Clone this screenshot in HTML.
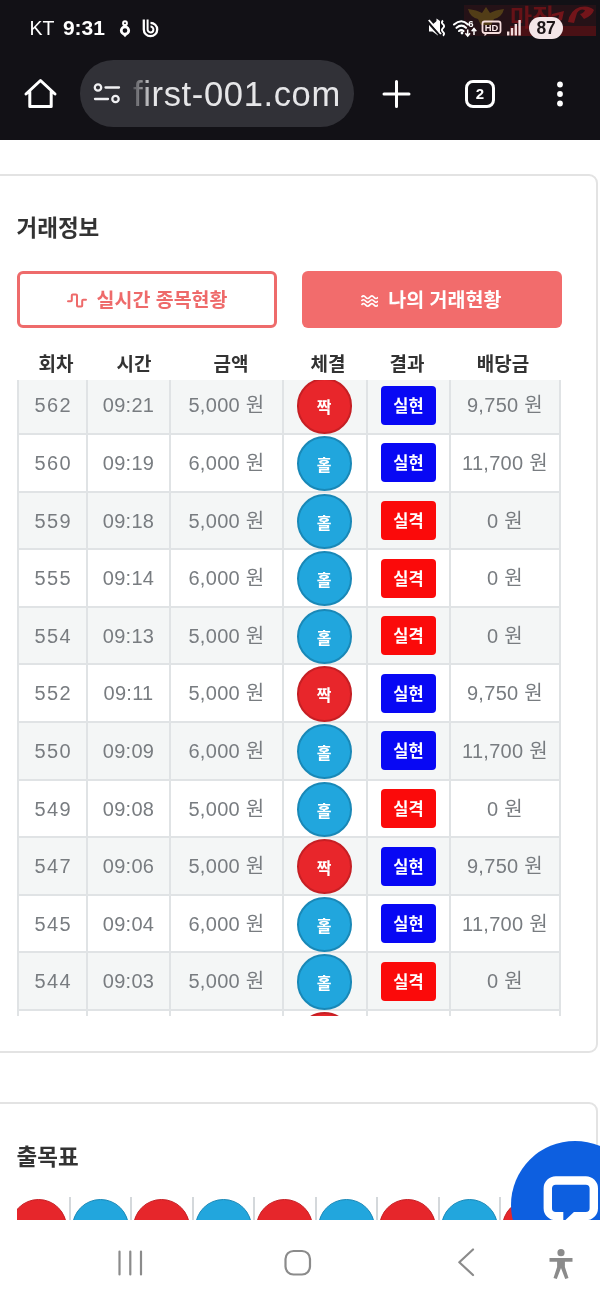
<!DOCTYPE html>
<html lang="ko">
<head>
<meta charset="utf-8">
<title>거래정보</title>
<style>
*{box-sizing:border-box;margin:0;padding:0}
html,body{width:600px;height:1300px;overflow:hidden;background:#fff}
body{position:relative;font-family:"Liberation Sans","Noto Sans CJK KR",sans-serif;color:#333}
.abs{position:absolute}
/* top chrome */
#chrome{z-index:5;position:absolute;left:0;top:0;width:600px;height:140px;background:#121116}
#status{position:absolute;left:29.5px;top:16px;height:24px;line-height:24px;color:#fff;font-size:19.5px;white-space:nowrap}
#status b{font-weight:700;margin-left:8.5px;font-size:21px}
#pill{position:absolute;left:80px;top:60px;width:273.5px;height:66.5px;border-radius:33.3px;background:#313137;overflow:hidden}
#url{position:absolute;left:53px;top:0;height:66px;line-height:68.4px;font-size:34.5px;color:#e6e6e8;white-space:nowrap;letter-spacing:0.65px}
#fade{position:absolute;left:48px;top:0;width:26px;height:67px;background:linear-gradient(90deg,#313137 0%,rgba(49,49,55,0) 100%)}
#wm{position:absolute;left:460px;top:0;width:140px;height:52px;overflow:hidden}
#batt{position:absolute;left:529px;top:16.5px;width:34px;height:22px;border-radius:11px;background:#f3e6e8;color:#1c1518;font-size:17.5px;font-weight:700;text-align:center;line-height:22.5px;letter-spacing:-0.3px}
#tabs{position:absolute;left:465px;top:80px;width:30px;height:28px;border:3px solid #fff;border-radius:8px;color:#fff;font-size:15px;font-weight:700;text-align:center;line-height:22px}
/* page */
#page{position:absolute;left:0;top:0;width:600px;height:1220px;background:#fff;overflow:hidden}
.card{position:absolute;left:-12px;width:610px;border:2px solid #e3e3e3;border-radius:9px;background:#fff}
.title{position:absolute;left:16.5px;font-size:22.5px;font-weight:700;color:#333;white-space:nowrap;line-height:30px}
.btn{position:absolute;top:271px;width:260px;height:57px;border-radius:6px;font-size:19.5px;font-weight:700;line-height:53px;text-align:center;white-space:nowrap}
#b1{left:17px;border:3.5px solid #ee6b6b;color:#ee6a6a;background:#fff;line-height:52px}
#b2{left:302px;background:#f26c6c;color:#fff;line-height:58px;padding-right:2px}
.btn svg{vertical-align:middle;margin-right:10px;position:relative;top:-1px}
/* table */
#thead{position:absolute;left:0;top:350px;width:600px;height:30px}
#thead span{position:absolute;top:0;width:100px;margin-left:-50px;text-align:center;font-size:19px;font-weight:700;color:#333;line-height:30px}
#tbody{position:absolute;left:17px;top:380px;width:544px;height:636px;overflow:hidden;border-left:2px solid #e0e3e5;border-right:2px solid #e0e3e5}
.row{position:absolute;left:0;width:540px;height:57.6px;border-bottom:2px solid #e0e3e5}
.row.odd{background:#f4f6f6}
.c{position:absolute;top:0;height:100%;text-align:center;font-size:20px;color:#787c80;line-height:57px;white-space:nowrap;letter-spacing:0.3px}
.vl{position:absolute;top:0;width:2px;height:636px;background:#e0e3e5}
.ball{position:absolute;width:55.2px;height:55.2px;border-radius:50%;left:277.6px;color:#fff;font-size:16px;font-weight:700;text-align:center;line-height:55px}
.ball.r{background:#e8262b;border:2px solid #c61f24}
.ball.b{background:#21a6dd;border:2px solid #1988b7}
.bd{position:absolute;left:362px;width:55px;height:39px;border-radius:4px;color:#fff;font-size:16.5px;font-weight:700;text-align:center;line-height:40px}
.bd.b{background:#0808f4}
.bd.r{background:#fb0a0a}
#strip{position:absolute;left:17px;top:1197px;width:545px;height:23px;overflow:hidden}
.sb{position:absolute;top:1.5px;width:57px;height:57px;border-radius:50%}
.sb.r{background:#e6262b;border:1.500px solid #c61f24}
.sb.b{background:#22a6dd;border:1.500px solid #1988b7}
.sl{position:absolute;top:0;width:2px;height:23px;background:#d4d8db}
#chat{position:absolute;left:511px;top:1141px;width:128px;height:128px;border-radius:50%;background:#0d5fe0;overflow:hidden}
/* nav */
#nav{z-index:6;position:absolute;left:0;top:1220px;width:600px;height:80px;background:#fff}
</style>
</head>
<body>
<div id="chrome">
  <div id="wm"><svg width="140" height="52" viewBox="0 0 140 52"><rect x="4" y="5" width="132" height="31" fill="#8a1a1e" opacity=".16"/><path d="M8 9q9 1 14 4l4-6 4 6q5-3 14-4-2 8-10 10l-3 6h-10l-3-6Q10 17 8 9z" fill="#8a7418" opacity=".45"/><rect x="50" y="26" width="86" height="10" fill="#6a1014" opacity=".55"/><path d="M92 14l12-3-2 9-4 1 1-6-8 2zM108 22q2-12 12-15 9-2 14 3-2 6-10 9l-4-5q4-1 5-4-5-2-8 3l-3 10z" fill="#a8181d" opacity=".6"/><text x="50" y="26" font-family="Liberation Sans, Noto Sans CJK KR, sans-serif" font-weight="700" font-size="24" fill="#7c1218" opacity=".75">마징</text></svg></div>
  <div id="status">KT<b>9:31</b></div>
  <svg class="abs" style="left:118px;top:18px" width="44" height="20" viewBox="0 0 44 20"><circle cx="7" cy="5.200" r="1.900" fill="none" stroke="#fff" stroke-width="2"/><path d="M7 8.800a3.700 3.700 0 1 1 0 7.400a3.700 3.700 0 1 1 0-7.400z" fill="none" stroke="#fff" stroke-width="2.800"/><path d="M3.800 15.500L7 19.200l3.200-3.700z" fill="#fff"/><path d="M25.800 1.500v10a6.700 6.700 0 1 0 6.700-6.700" fill="none" stroke="#fff" stroke-width="2.300"/><path d="M29.600 1.500v10a2.900 2.900 0 1 0 2.900-2.900" fill="none" stroke="#fff" stroke-width="2"/></svg>
  <svg class="abs" style="left:426px;top:12px" width="100" height="28" viewBox="0 0 100 28"><path d="M3 12.500h3.500L12 8v15.500L6.500 19.500H3z" fill="#fff"/><path d="M10.500 6.500L14 9V23L10.500 20.500z" fill="#fff"/><path d="M1.500 9.500L14 23.500" stroke="#121116" stroke-width="2.400"/><path d="M2.800 8L15 22" stroke="#fff" stroke-width="1.900"/><path d="M17 8.500q-2.200 2 0 3.800t0 3.800 0 3.800 0 3.800" fill="none" stroke="#fff" stroke-width="1.900"/><g fill="none" stroke="#fff" stroke-width="2.100" stroke-linecap="round"><path d="M28 12.500q7.500-6.500 14 0"/><path d="M30.500 15.800q5-4.200 9.500 0"/><path d="M33 19q2.300-1.900 4.500 0"/></g><circle cx="36" cy="21" r="1.400" fill="#fff"/><text x="42.300" y="14.600" font-family="Liberation Sans,sans-serif" font-size="9.500" font-weight="700" fill="#fff">6</text><path d="M41.700 17.500v6m-2.300-2.300l2.300 2.800 2.300-2.800" fill="none" stroke="#fff" stroke-width="1.500"/><path d="M48 23v-6m-2.300 2.300l2.300-2.800 2.300 2.800" fill="none" stroke="#fff" stroke-width="1.500"/><rect x="56.500" y="9.500" width="18" height="11.500" rx="2.200" fill="none" stroke="#f6dede" stroke-width="1.800"/><path d="M58.500 21v3.300l3.500-3.300z" fill="#f6dede"/><text x="58.700" y="18.900" font-family="Liberation Sans,sans-serif" font-size="9.500" font-weight="700" fill="#fbeaea" textLength="13.600" lengthAdjust="spacingAndGlyphs">HD</text><g fill="#f3dcdc"><rect x="81" y="19.500" width="2.400" height="4"/><rect x="84.800" y="16" width="2.400" height="7.500"/><rect x="88.600" y="12" width="2.400" height="11.500"/><rect x="92.400" y="8" width="2.400" height="15.500"/></g></svg>
  <div id="batt">87</div>
  <svg class="abs" style="left:22px;top:76px" width="36" height="36" viewBox="0 0 36 36"><path d="M4 18L18.500 4.500 33 18M7.800 15.500V30.500H29.200V15.500" fill="none" stroke="#fff" stroke-width="3" stroke-linejoin="round" stroke-linecap="round"/></svg>
  <div id="pill"><svg class="abs" style="left:13px;top:22px" width="28" height="24" viewBox="0 0 28 24"><g fill="none" stroke="#f0f0f2" stroke-width="2.300" stroke-linecap="round"><circle cx="5" cy="5.500" r="3.200"/><path d="M12.500 5.500H26"/><path d="M2 17H15"/><circle cx="22.500" cy="17" r="3.200"/></g></svg><div id="url">first-001.com</div><div id="fade"></div></div>
  <svg class="abs" style="left:380px;top:78px" width="32" height="32" viewBox="0 0 32 32"><path d="M16.500 3.500v25M4 16h25" stroke="#fff" stroke-width="3" stroke-linecap="round"/></svg>
  <div id="tabs">2</div>
  <svg class="abs" style="left:554px;top:78px" width="12" height="32" viewBox="0 0 12 32"><circle cx="6" cy="6.500" r="2.900" fill="#fff"/><circle cx="6" cy="16" r="2.900" fill="#fff"/><circle cx="6" cy="25.500" r="2.900" fill="#fff"/></svg>
</div>
<div id="page">
<div class="card" style="top:174px;height:879px"></div>
<div class="title" style="top:214px">거래정보</div>
<div class="btn" id="b1"><svg width="20" height="15" viewBox="0 0 20 15"><path d="M1 8.200h2.800q1 0 1-1V2.500q0-1 1-1h3.200q1 0 1 1v10q0 1 1 1h3.200q1 0 1-1V7.800q0-1 1-1H19" fill="none" stroke="#ee6a6a" stroke-width="2" stroke-linecap="round" stroke-linejoin="round"/></svg>실시간 종목현황</div>
<div class="btn" id="b2"><svg width="17.600" height="13.500" viewBox="0 0 19 14" preserveAspectRatio="none"><path d="M.500 3.300c1.500-1.800 3-1.800 4.500 0s3 1.800 4.500 0 3-1.800 4.500 0 3 1.800 4.500 0M.500 7.300c1.500-1.800 3-1.800 4.500 0s3 1.800 4.500 0 3-1.800 4.500 0 3 1.800 4.500 0M.500 11.300c1.500-1.800 3-1.800 4.500 0s3 1.800 4.500 0 3-1.800 4.500 0 3 1.800 4.500 0" fill="none" stroke="#fff" stroke-width="1.700"/></svg>나의 거래현황</div>
<div id="thead"><span style="left:56px">회차</span><span style="left:134px">시간</span><span style="left:231px">금액</span><span style="left:328px">체결</span><span style="left:407px">결과</span><span style="left:503px">배당금</span></div>
<div id="tbody">
<div class="row odd" style="top:-2.6px">
<div class="c" style="left:-1px;width:69px;letter-spacing:1.4px;text-indent:1.4px">562</div>
<div class="c" style="left:68px;width:83px">09:21</div>
<div class="c" style="left:151px;width:113px">5,000 원</div>
<div class="c" style="left:431px;width:110px">9,750 원</div>
</div>
<div class="row" style="top:55.0px">
<div class="c" style="left:-1px;width:69px;letter-spacing:1.4px;text-indent:1.4px">560</div>
<div class="c" style="left:68px;width:83px">09:19</div>
<div class="c" style="left:151px;width:113px">6,000 원</div>
<div class="c" style="left:431px;width:110px">11,700 원</div>
</div>
<div class="row odd" style="top:112.6px">
<div class="c" style="left:-1px;width:69px;letter-spacing:1.4px;text-indent:1.4px">559</div>
<div class="c" style="left:68px;width:83px">09:18</div>
<div class="c" style="left:151px;width:113px">5,000 원</div>
<div class="c" style="left:431px;width:110px">0 원</div>
</div>
<div class="row" style="top:170.2px">
<div class="c" style="left:-1px;width:69px;letter-spacing:1.4px;text-indent:1.4px">555</div>
<div class="c" style="left:68px;width:83px">09:14</div>
<div class="c" style="left:151px;width:113px">6,000 원</div>
<div class="c" style="left:431px;width:110px">0 원</div>
</div>
<div class="row odd" style="top:227.8px">
<div class="c" style="left:-1px;width:69px;letter-spacing:1.4px;text-indent:1.4px">554</div>
<div class="c" style="left:68px;width:83px">09:13</div>
<div class="c" style="left:151px;width:113px">5,000 원</div>
<div class="c" style="left:431px;width:110px">0 원</div>
</div>
<div class="row" style="top:285.4px">
<div class="c" style="left:-1px;width:69px;letter-spacing:1.4px;text-indent:1.4px">552</div>
<div class="c" style="left:68px;width:83px">09:11</div>
<div class="c" style="left:151px;width:113px">5,000 원</div>
<div class="c" style="left:431px;width:110px">9,750 원</div>
</div>
<div class="row odd" style="top:343.0px">
<div class="c" style="left:-1px;width:69px;letter-spacing:1.4px;text-indent:1.4px">550</div>
<div class="c" style="left:68px;width:83px">09:09</div>
<div class="c" style="left:151px;width:113px">6,000 원</div>
<div class="c" style="left:431px;width:110px">11,700 원</div>
</div>
<div class="row" style="top:400.6px">
<div class="c" style="left:-1px;width:69px;letter-spacing:1.4px;text-indent:1.4px">549</div>
<div class="c" style="left:68px;width:83px">09:08</div>
<div class="c" style="left:151px;width:113px">5,000 원</div>
<div class="c" style="left:431px;width:110px">0 원</div>
</div>
<div class="row odd" style="top:458.2px">
<div class="c" style="left:-1px;width:69px;letter-spacing:1.4px;text-indent:1.4px">547</div>
<div class="c" style="left:68px;width:83px">09:06</div>
<div class="c" style="left:151px;width:113px">5,000 원</div>
<div class="c" style="left:431px;width:110px">9,750 원</div>
</div>
<div class="row" style="top:515.8px">
<div class="c" style="left:-1px;width:69px;letter-spacing:1.4px;text-indent:1.4px">545</div>
<div class="c" style="left:68px;width:83px">09:04</div>
<div class="c" style="left:151px;width:113px">6,000 원</div>
<div class="c" style="left:431px;width:110px">11,700 원</div>
</div>
<div class="row odd" style="top:573.4px">
<div class="c" style="left:-1px;width:69px;letter-spacing:1.4px;text-indent:1.4px">544</div>
<div class="c" style="left:68px;width:83px">09:03</div>
<div class="c" style="left:151px;width:113px">5,000 원</div>
<div class="c" style="left:431px;width:110px">0 원</div>
</div>
<div class="row" style="top:631.0px">
<div class="c" style="left:-1px;width:69px;letter-spacing:1.4px;text-indent:1.4px">542</div>
<div class="c" style="left:68px;width:83px">09:01</div>
<div class="c" style="left:151px;width:113px">5,000 원</div>
<div class="c" style="left:431px;width:110px">9,750 원</div>
</div>
<div class="vl" style="left:67px"></div>
<div class="vl" style="left:150px"></div>
<div class="vl" style="left:263px"></div>
<div class="vl" style="left:347px"></div>
<div class="vl" style="left:430px"></div>
<div class="ball r" style="top:-1.6px">짝</div>
<div class="bd b" style="top:5.8px">실현</div>
<div class="ball b" style="top:56.0px">홀</div>
<div class="bd b" style="top:63.4px">실현</div>
<div class="ball b" style="top:113.6px">홀</div>
<div class="bd r" style="top:121.0px">실격</div>
<div class="ball b" style="top:171.2px">홀</div>
<div class="bd r" style="top:178.6px">실격</div>
<div class="ball b" style="top:228.8px">홀</div>
<div class="bd r" style="top:236.2px">실격</div>
<div class="ball r" style="top:286.4px">짝</div>
<div class="bd b" style="top:293.8px">실현</div>
<div class="ball b" style="top:344.0px">홀</div>
<div class="bd b" style="top:351.4px">실현</div>
<div class="ball b" style="top:401.6px">홀</div>
<div class="bd r" style="top:409.0px">실격</div>
<div class="ball r" style="top:459.2px">짝</div>
<div class="bd b" style="top:466.6px">실현</div>
<div class="ball b" style="top:516.8px">홀</div>
<div class="bd b" style="top:524.2px">실현</div>
<div class="ball b" style="top:574.4px">홀</div>
<div class="bd r" style="top:581.8px">실격</div>
<div class="ball r" style="top:632.0px">짝</div>
<div class="bd b" style="top:639.4px">실현</div>
</div>
<div class="card" style="top:1102px;height:300px"></div>
<div class="title" style="top:1143px">출목표</div>
</div>
<div id="strip"><div class="sb r" style="left:-6.6px"></div><div class="sl" style="left:51.6px"></div><div class="sb b" style="left:54.9px"></div><div class="sl" style="left:113.1px"></div><div class="sb r" style="left:116.4px"></div><div class="sl" style="left:174.6px"></div><div class="sb b" style="left:177.9px"></div><div class="sl" style="left:236.1px"></div><div class="sb r" style="left:239.4px"></div><div class="sl" style="left:297.6px"></div><div class="sb b" style="left:300.9px"></div><div class="sl" style="left:359.1px"></div><div class="sb r" style="left:362.4px"></div><div class="sl" style="left:420.6px"></div><div class="sb b" style="left:423.9px"></div><div class="sl" style="left:482.1px"></div><div class="sb r" style="left:485.4px"></div><div class="sl" style="left:543.6px"></div><div class="sb b" style="left:546.9px"></div><div class="sl" style="left:605.1px"></div></div>
<div id="chat"><svg width="90" height="82" viewBox="0 0 90 82" style="position:absolute;left:0;top:0"><rect x="36.800" y="39.500" width="46" height="35.700" rx="8" fill="none" stroke="#fff" stroke-width="8.400"/><path d="M52.300 70.500V81L63.500 70.500z" fill="#0d5fe0"/></svg></div>
<div id="nav"><svg width="600" height="80" viewBox="0 0 600 80"><g fill="none" stroke="#8b8b8b" stroke-width="2.200" stroke-linecap="round"><path d="M119.500 31.500v23M130.300 31.500v23M141 31.500v23"/><rect x="285.500" y="31" width="24.500" height="23.500" rx="8"/><path d="M473 29.500L459.300 42.300 473 55" stroke-linejoin="round"/></g><g fill="#8b8b8b" transform="translate(0,4.200)"><circle cx="561" cy="28.500" r="3.600"/><path d="M549.500 33.800h23v3.800h-7.600v5.200l3.600 11-3.300 1-4.200-11-4.200 11-3.300-1 3.600-11v-5.200h-7.600z"/></g></svg></div>
</body>
</html>
